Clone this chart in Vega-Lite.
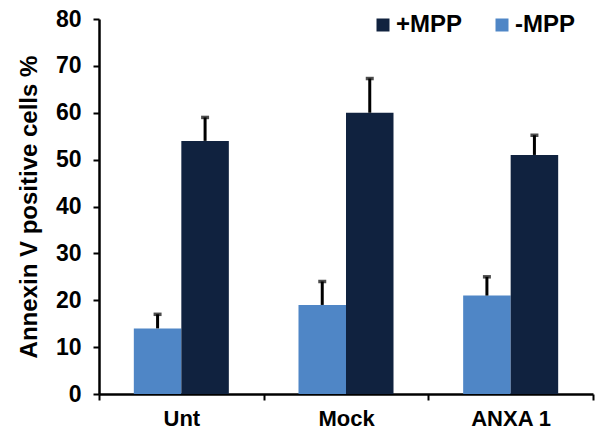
{
  "$schema": "https://vega.github.io/schema/vega-lite/v6.json",
  "width": 494,
  "height": 375,
  "autosize": "none",
  "padding": {"left": 99, "top": 19, "right": 2, "bottom": 40},
  "background": "white",
  "config": {"view": {"stroke": null}, "font": "Liberation Sans"},
  "data": {
    "values": [
      {"cat": "Unt", "series": "-MPP", "value": 14, "err": 17},
      {"cat": "Unt", "series": "+MPP", "value": 54, "err": 59},
      {"cat": "Mock", "series": "-MPP", "value": 19, "err": 24},
      {"cat": "Mock", "series": "+MPP", "value": 60, "err": 67.3},
      {"cat": "ANXA 1", "series": "-MPP", "value": 21, "err": 25},
      {"cat": "ANXA 1", "series": "+MPP", "value": 51, "err": 55.2}
    ]
  },
  "encoding": {
    "x": {
      "field": "cat",
      "type": "nominal",
      "sort": ["Unt", "Mock", "ANXA 1"],
      "scale": {"paddingInner": 0, "paddingOuter": 0},
      "axis": {
        "title": null,
        "labelAngle": 0,
        "tickBand": "extent",
        "domainColor": "black",
        "domainWidth": 2.5,
        "tickColor": "black",
        "tickWidth": 2,
        "tickSize": 6,
        "labelFontSize": 22,
        "labelFontWeight": "bold",
        "labelColor": "black",
        "labelPadding": 8
      }
    },
    "xOffset": {
      "field": "series",
      "sort": ["-MPP", "+MPP"],
      "scale": {"paddingInner": 0, "paddingOuter": 0.733}
    }
  },
  "layer": [
    {
      "mark": {"type": "bar"},
      "encoding": {
        "y": {
          "field": "value",
          "type": "quantitative",
          "scale": {"domain": [0, 80]},
          "axis": {
            "title": "Annexin V positive cells %",
            "values": [0, 10, 20, 30, 40, 50, 60, 70, 80],
            "grid": false,
            "domainColor": "black",
            "domainWidth": 2.5,
            "tickColor": "black",
            "tickWidth": 2,
            "tickSize": 6,
            "labelFontSize": 23,
            "labelFontWeight": "bold",
            "labelColor": "black",
            "labelPadding": 12,
            "titleFontSize": 24,
            "titleFontWeight": "bold",
            "titleColor": "black",
            "titlePadding": 14
          }
        },
        "color": {
          "field": "series",
          "type": "nominal",
          "scale": {"domain": ["+MPP", "-MPP"], "range": ["#10223f", "#4f86c6"]},
          "legend": {
            "title": null,
            "orient": "none",
            "legendX": 272,
            "legendY": -6,
            "direction": "horizontal",
            "symbolType": "square",
            "symbolSize": 169,
            "symbolStrokeWidth": 0,
            "symbolOpacity": 1,
            "labelFontSize": 24,
            "labelFontWeight": "bold",
            "labelColor": "black",
            "labelOffset": 1,
            "columnPadding": 27
          }
        }
      }
    },
    {
      "mark": {"type": "rule", "strokeWidth": 3, "color": "black"},
      "encoding": {
        "y": {"field": "value", "type": "quantitative"},
        "y2": {"field": "err"}
      }
    },
    {
      "mark": {"type": "tick", "thickness": 3.5, "size": 8, "color": "black", "orient": "horizontal"},
      "encoding": {
        "y": {"field": "err", "type": "quantitative"}
      }
    }
  ]
}
